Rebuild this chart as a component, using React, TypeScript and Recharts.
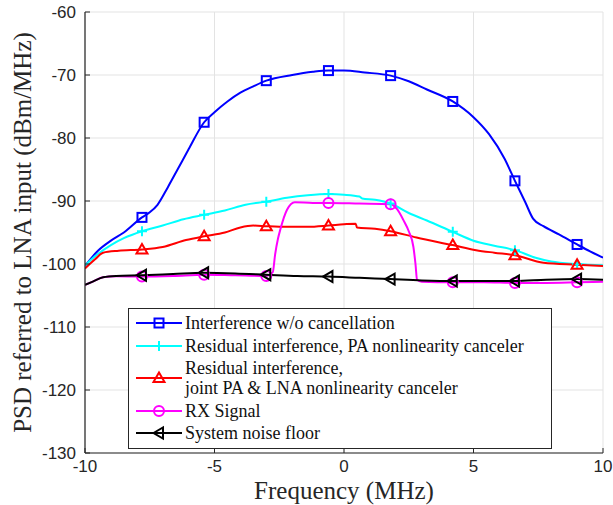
import React from "react";
import {
  LineChart,
  Line,
  XAxis,
  YAxis,
  CartesianGrid,
  Legend,
  Label,
} from "recharts";

const freqTicks = [-10, -5, 0, 5, 10];
const psdTicks = [-130, -120, -110, -100, -90, -80, -70, -60];
const markerFreqs = [-7.8, -5.4, -3.0, -0.6, 1.8, 4.2, 6.6, 9.0];

// interference without cancellation
const interferenceFreq = [-10, -9.5, -9, -8.5, -7.8, -7.5, -7.2, -6.8, -6.4, -6, -5.4, -5, -4.5, -4, -3.5, -3, -2, -1.2, -0.6, 0, 0.8, 1.8, 2.5, 3.2, 4.2, 5, 5.6, 6.2, 6.6, 7, 7.3, 7.7, 8.3, 9, 9.5, 10];
const interferencePsd = [-100.3, -97.9, -96.3, -95.0, -92.6, -91.8, -90.6, -87.8, -84.8, -81.8, -77.5, -75.9, -74.2, -72.8, -71.8, -70.9, -70.0, -69.5, -69.3, -69.3, -69.6, -70.1, -71.0, -72.3, -74.2, -76.7, -79.4, -83.3, -86.8, -90.2, -92.8, -94.0, -95.3, -96.9, -98.0, -99.0];

// residual, PA canceler
const paFreq = [-10, -9.5, -9, -8.5, -7.8, -7, -6.2, -5.4, -4.6, -3.8, -3, -2.2, -1.4, -0.6, 0, 0.6, 0.7, 1.2, 1.8, 2.5, 3.2, 4.2, 5, 5.8, 6.6, 7.4, 8, 9, 10];
const paPsd = [-100.2, -98.4, -97.0, -95.9, -94.8, -93.9, -92.9, -92.2, -91.5, -90.6, -90.1, -89.5, -89.1, -88.9, -89.0, -89.3, -89.6, -89.8, -90.4, -91.9, -93.1, -94.9, -96.3, -97.1, -97.8, -99.0, -99.6, -100.0, -100.2];

// residual, joint PA & LNA canceler
const jointFreq = [-10, -9.6, -9.3, -8.7, -7.8, -7, -6.1, -5.4, -4.6, -4.0, -3.5, -3, -2.2, -1.4, -0.6, 0, 0.45, 0.5, 1.2, 1.8, 2.8, 4.2, 5.1, 5.8, 6.6, 7.7, 9, 10];
const jointPsd = [-100.7, -99.2, -98.2, -97.9, -97.7, -97.3, -96.2, -95.6, -95.0, -94.2, -93.9, -94.0, -94.1, -94.1, -93.9, -93.7, -93.6, -94.2, -94.4, -94.8, -95.8, -97.0, -97.8, -98.2, -98.6, -99.8, -100.1, -100.3];

// RX signal
const rxFreq = [-10, -9.7, -9.3, -8.8, -7.8, -6.6, -5.4, -4.2, -3.0, -2.75, -2.66, -2.55, -2.45, -2.2, -1.9, -1.2, -0.6, 0.6, 1.8, 2.05, 2.29, 2.5, 2.68, 2.76, 2.82, 3.0, 4.2, 5.4, 6.6, 7.8, 9, 10];
const rxPsd = [-103.3, -102.8, -102.1, -101.95, -102.0, -101.9, -101.7, -101.8, -101.9, -101.3, -98.5, -96.0, -94.4, -91.4, -90.2, -90.3, -90.3, -90.4, -90.5, -91.3, -93.0, -94.8, -97.3, -100.0, -102.5, -102.8, -102.9, -102.9, -103.0, -103.0, -102.9, -102.8];

// system noise floor
const noiseFreq = [-10, -9.7, -9.3, -8.8, -7.8, -6.6, -5.4, -4.2, -3, -1.8, -0.6, 0.6, 1.8, 3, 4.2, 5.4, 6.6, 7.8, 9, 10];
const noisePsd = [-103.3, -102.8, -102.1, -101.9, -101.8, -101.6, -101.4, -101.5, -101.7, -101.9, -102.0, -102.2, -102.4, -102.6, -102.7, -102.7, -102.7, -102.5, -102.4, -102.5];

const zip = (xs: number[], ys: number[]) => xs.map((x, i) => ({ x, y: ys[i] }));

type Shape = "square" | "plus" | "triUp" | "circle" | "triLeft";

const series = [
  { name: "Interference w/o cancellation", lines: ["Interference w/o cancellation"], color: "#0000ff", shape: "square" as Shape, data: zip(interferenceFreq, interferencePsd) },
  { name: "Residual interference, PA nonlinearity canceler", lines: ["Residual interference, PA nonlinearity canceler"], color: "#00ffff", shape: "plus" as Shape, data: zip(paFreq, paPsd) },
  { name: "joint", lines: ["Residual interference,", "joint PA & LNA nonlinearity canceler"], color: "#ff0000", shape: "triUp" as Shape, data: zip(jointFreq, jointPsd) },
  { name: "RX Signal", lines: ["RX Signal"], color: "#ff00ff", shape: "circle" as Shape, data: zip(rxFreq, rxPsd) },
  { name: "System noise floor", lines: ["System noise floor"], color: "#000000", shape: "triLeft" as Shape, data: zip(noiseFreq, noisePsd) },
];

const serifFont = '"Liberation Serif"';

function Marker({ shape, cx, cy, color }: { shape: Shape; cx: number; cy: number; color: string }) {
  const p = { stroke: color, strokeWidth: 2, fill: "none" };
  if (shape === "square") return <rect x={cx - 4.5} y={cy - 4.5} width={9} height={9} {...p} />;
  if (shape === "plus")
    return <path d={`M${cx - 5},${cy}H${cx + 5}M${cx},${cy - 5}V${cy + 5}`} {...p} />;
  if (shape === "triUp")
    return <polygon points={`${cx},${cy - 5.5} ${cx - 5.5},${cy + 4} ${cx + 5.5},${cy + 4}`} {...p} />;
  if (shape === "circle") return <circle cx={cx} cy={cy} r={5} {...p} />;
  return <polygon points={`${cx - 5.5},${cy} ${cx + 4},${cy - 5.5} ${cx + 4},${cy + 5.5}`} {...p} />;
}

const makeDot = (shape: Shape, color: string) => (props: any) => {
  const { cx, cy, payload, index } = props;
  if (!markerFreqs.some((f) => Math.abs(f - payload.x) < 1e-6)) return <g key={index} />;
  return (
    <g key={index}>
      <Marker shape={shape} cx={cx} cy={cy} color={color} />
    </g>
  );
};

function LegendBox() {
  return (
    <div
      style={{
        border: "1px solid #262626",
        background: "#fff",
        boxSizing: "border-box",
        width: 424,
        height: 141,
        paddingTop: 4,
        fontFamily: serifFont,
        fontSize: 18,
        color: "#111",
      }}
    >
      {series.map((s) => (
        <div key={s.name} style={{ display: "flex", alignItems: "center", marginBottom: 2.5 }}>
          <svg width={46} height={20 * s.lines.length} style={{ marginLeft: 7, marginRight: 3, flex: "none" }}>
            <line x1={0} x2={46} y1={10 * s.lines.length} y2={10 * s.lines.length} stroke={s.color} strokeWidth={2} />
            <Marker shape={s.shape} cx={23} cy={10 * s.lines.length} color={s.color} />
          </svg>
          <div style={{ lineHeight: "20px", whiteSpace: "nowrap" }}>
            {s.lines.map((t) => (
              <div key={t}>{t}</div>
            ))}
          </div>
        </div>
      ))}
    </div>
  );
}

const axisColor = "#262626";
const tickFont = { fontSize: 17, fill: axisColor, fontFamily: "Liberation Sans" };

export default function App() {
  return (
    <div style={{ position: "absolute", left: 0, top: 0, width: 613, height: 505, background: "#fff" }}>
      <LineChart width={613} height={505} margin={{ top: 12, right: 10, bottom: 0, left: 0 }}>
        <CartesianGrid stroke="#e3e3e3" strokeWidth={1} />
        <XAxis
          type="number"
          dataKey="x"
          domain={[-10, 10]}
          ticks={freqTicks}
          height={52}
          allowDataOverflow
          stroke={axisColor}
          tick={tickFont}
          tickSize={-5}
          tickMargin={12}
          axisLine={{ stroke: axisColor, strokeWidth: 1.2 }}
        >
          <Label
            content={({ viewBox }: any) => (
              <text
                x={viewBox.x + viewBox.width / 2}
                y={viewBox.y + 46}
                textAnchor="middle"
                fontFamily="Liberation Serif"
                fontSize={25}
                fill={axisColor}
              >
                Frequency (MHz)
              </text>
            )}
          />
        </XAxis>
        <XAxis
          xAxisId="top"
          orientation="top"
          type="number"
          domain={[-10, 10]}
          ticks={freqTicks}
          height={0}
          tick={false}
          tickSize={-5}
          stroke={axisColor}
          axisLine={{ stroke: axisColor, strokeWidth: 1.2 }}
        />
        <YAxis
          type="number"
          domain={[-130, -60]}
          ticks={psdTicks}
          width={85}
          allowDataOverflow
          stroke={axisColor}
          tick={tickFont}
          tickSize={-5}
          tickMargin={14}
          axisLine={{ stroke: axisColor, strokeWidth: 1.2 }}
        >
          <Label
            content={({ viewBox }: any) => (
              <text
                x={22}
                y={viewBox.y + viewBox.height / 2}
                transform={`rotate(-90, 22, ${viewBox.y + viewBox.height / 2})`}
                textAnchor="middle"
                dominantBaseline="central"
                fontFamily="Liberation Serif"
                fontSize={25}
                fill={axisColor}
              >
                PSD referred to LNA input (dBm/MHz)
              </text>
            )}
          />
        </YAxis>
        <YAxis
          yAxisId="right"
          orientation="right"
          type="number"
          domain={[-130, -60]}
          ticks={psdTicks}
          width={0}
          tick={false}
          tickSize={-5}
          stroke={axisColor}
          axisLine={{ stroke: axisColor, strokeWidth: 1.2 }}
        />
        {series.map((s) => (
          <Line
            key={s.name}
            data={s.data}
            dataKey="y"
            name={s.name}
            type="monotone"
            stroke={s.color}
            strokeWidth={2}
            dot={makeDot(s.shape, s.color)}
            activeDot={false}
            isAnimationActive={false}
          />
        ))}
        <Legend
          layout="vertical"
          align="center"
          verticalAlign="middle"
          wrapperStyle={{ position: "absolute", left: 128, top: 308, width: 424, height: 141 }}
          content={() => <LegendBox />}
        />
      </LineChart>
    </div>
  );
}
